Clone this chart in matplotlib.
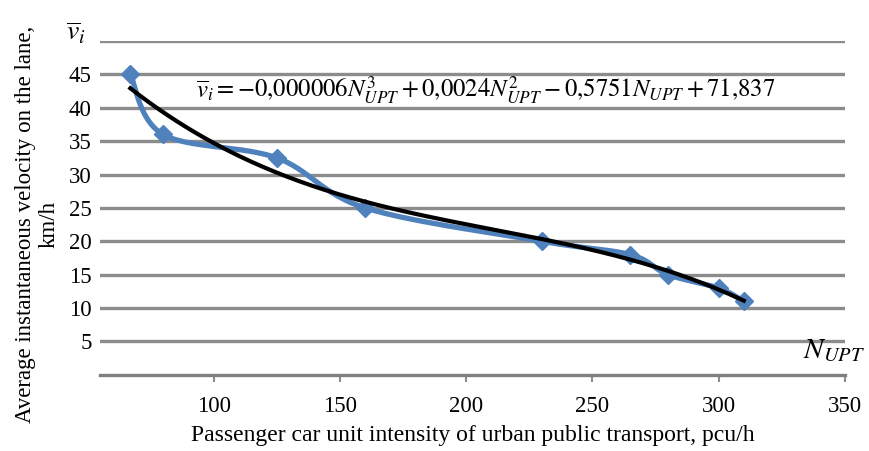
import numpy as np
import matplotlib
matplotlib.use("Agg")
import matplotlib.pyplot as plt

plt.rcParams['font.family'] = ['Liberation Serif', 'DejaVu Serif']
plt.rcParams['mathtext.fontset'] = 'stix'

# data
n_upt = [67, 80, 125, 160, 230, 265, 280, 300, 310]
speed = [45, 36, 32.5, 25, 20, 18, 15, 13, 11]
x_ticks = [100, 150, 200, 250, 300, 350]
y_ticks = [5, 10, 15, 20, 25, 30, 35, 40, 45]

blue = '#4f81bd'
grid_col = '#8c8c8c'


def smooth(xs, ys, n=30):
    # catmull-rom style smoothing like the spreadsheet "smoothed line"
    xs = np.asarray(xs, float)
    ys = np.asarray(ys, float)
    px = np.concatenate([[xs[0]], xs, [xs[-1]]])
    py = np.concatenate([[ys[0]], ys, [ys[-1]]])
    out_x, out_y = [], []
    t = np.linspace(0, 1, n)
    for i in range(1, len(px) - 2):
        p0, p1, p2, p3 = [np.array([px[j], py[j]]) for j in (i - 1, i, i + 1, i + 2)]
        c1 = p1 + (p2 - p0) / 6
        c2 = p2 - (p3 - p1) / 6
        pts = ((1 - t) ** 3)[:, None] * p1 + (3 * (1 - t) ** 2 * t)[:, None] * c1 \
            + (3 * (1 - t) * t ** 2)[:, None] * c2 + (t ** 3)[:, None] * p2
        out_x.extend(pts[:, 0])
        out_y.extend(pts[:, 1])
    return np.array(out_x), np.array(out_y)


fig = plt.figure(figsize=(8.7, 4.51), dpi=100)
ax = fig.add_axes([0.115, 0.169, 0.856, 0.740])

for yv in range(5, 55, 5):
    ax.axhline(yv, color=grid_col, lw=2.4, zorder=0)

sx, sy = smooth(n_upt, speed)
ax.plot(sx, sy, color=blue, lw=3.8, zorder=2, solid_capstyle='round')
ax.plot(n_upt, speed, ls='none', marker='D', ms=9, color=blue, zorder=3)

# cubic trend line
coef = np.polyfit(n_upt, speed, 3)
tx = np.linspace(min(n_upt), max(n_upt), 200)
ax.plot(tx, np.polyval(coef, tx), color='black', lw=3, zorder=4)

ax.set_xlim(55, 350)
ax.set_ylim(0, 50)
ax.set_xticks(x_ticks)
ax.set_yticks(y_ticks)
ax.tick_params(axis='y', length=0, labelsize=16.5, pad=6)
ax.tick_params(axis='x', length=5, width=1.5, color=grid_col, labelsize=16.5, pad=10)
for s in ['top', 'right', 'left']:
    ax.spines[s].set_visible(False)
ax.spines['bottom'].set_color('#7f7f7f')
ax.spines['bottom'].set_linewidth(2.4)

ax.set_xlabel('Passenger car unit intensity of urban public transport, pcu/h',
              fontsize=17, labelpad=6)
ax.set_ylabel('Average instantaneous velocity on the lane,\nkm/h',
              fontsize=16.5, linespacing=1.15)
ax.yaxis.set_label_coords(-0.054, 0.45)

ax.text(-0.033, 1.025, r'$\overline{v}_i$', transform=ax.transAxes,
        fontsize=20, ha='center', va='center')
ax.text(0.985, 0.07, r'$N_{UPT}$', transform=ax.transAxes,
        fontsize=21, ha='center', va='center')
ax.text(93, 42.6,
        r'$\overline{v}_i = -0{,}000006N_{UPT}^{3} + 0{,}0024N_{UPT}^{2} - 0{,}5751N_{UPT} + 71{,}837$',
        fontsize=17.8, ha='left', va='center')

fig.savefig('out.png', dpi=100)
